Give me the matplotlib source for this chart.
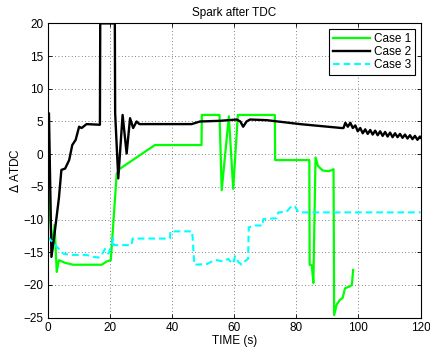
import numpy as np
import matplotlib.pyplot as plt

# Case 1: time (s) and spark timing change
case1_t = [0, 0.1, 1.5, 2.2, 2.9, 3.6, 5.5, 8.2, 17.4, 19.0, 20.3, 22.2, 23.3,
           34.5, 49.5, 49.6, 55.3, 56.0, 58.3, 59.7, 61.2, 73.1, 73.2, 84.2,
           84.3, 85.0, 85.5, 86.2, 87.0, 88.5, 90.5, 92.0, 92.2, 93.0, 94.0,
           94.9, 95.7, 97.3, 97.9, 98.3]
case1_v = [2.9, -5.0, -14.5, -10.8, -18.0, -16.2, -16.6, -16.9, -16.9, -16.4,
           -16.2, -3.0, -2.2, 1.4, 1.4, 6.0, 6.0, -5.5, 5.8, -5.3, 6.0, 6.0,
           -0.9, -0.9, -16.9, -17.0, -19.7, -0.5, -1.8, -2.5, -2.6, -2.3,
           -24.6, -23.0, -22.3, -22.0, -20.5, -20.2, -20.0, -17.7]

# Case 2
case2_t = [0.4, 1.2, 2.0, 3.6, 4.4, 5.6, 6.9, 7.9, 9.0, 10.1, 10.9, 12.5, 16.8,
           16.9, 21.6, 21.7, 22.7, 24.1, 25.4, 26.5, 27.5, 28.6, 29.5, 46.3,
           49.0, 55.4, 60.8, 62.0, 62.9, 64.0, 65.1, 70.5, 81.2, 94.6,
           95.2, 95.8, 96.6, 97.4, 98.2, 99.0, 99.8, 100.6, 101.4, 102.2,
           103.0, 103.8, 104.6, 105.4, 106.2, 107.0, 107.8, 108.6, 109.4,
           110.2, 111.0, 111.8, 112.6, 113.4, 114.2, 115.0, 115.8, 116.6,
           117.4, 118.2, 119.0, 119.8, 120.0]
case2_v = [6.2, -15.7, -12.9, -6.7, -2.4, -2.2, -0.9, 1.4, 2.2, 4.2, 4.0, 4.6,
           4.5, 20, 20, 6.3, -3.7, 6.0, 0.1, 5.5, 4.0, 5.0, 4.6, 4.6, 5.0, 5.1,
           5.3, 5.0, 4.2, 5.0, 5.3, 5.2, 4.6, 4.0,
           4.0, 4.8, 4.2, 4.8, 4.0, 4.4, 3.5, 4.0, 3.2, 3.8, 3.1, 3.7, 3.0,
           3.6, 2.9, 3.5, 2.8, 3.4, 2.7, 3.3, 2.6, 3.2, 2.6, 3.1, 2.5, 3.0,
           2.4, 2.9, 2.3, 2.8, 2.2, 2.7, 2.5]

# Case 3
case3_t = [0, 1.8, 3.4, 5.0, 7.2, 12.5, 14.7, 16.3, 17.4, 18.4, 19.5, 20.5,
           21.1, 21.2, 27.0, 27.3, 39.3, 39.5, 46.5, 47.2, 51.2, 53.3, 54.4,
           56.5, 58.1, 59.2, 59.7, 60.3, 61.4, 62.4, 62.8, 64.5, 64.7, 66.7,
           69.2, 69.4, 73.7, 74.2, 76.9, 78.5, 79.6, 80.7, 120]
case3_v = [-12.6, -13.6, -14.4, -15.2, -15.4, -15.4, -15.7, -15.8, -15.4,
           -14.5, -15.2, -14.0, -12.9, -13.9, -13.9, -12.9, -12.9, -11.8,
           -11.8, -16.9, -16.8, -16.3, -16.2, -16.4, -16.0, -16.6, -16.7,
           -15.6, -16.5, -16.9, -16.6, -16.0, -11.2, -10.9, -10.9, -9.9,
           -9.8, -8.9, -8.8, -7.9, -8.0, -8.9, -8.9]

xticks = np.arange(0, 121, 20)
yticks = np.arange(-25, 21, 5)


def main():
    plt.rcParams['font.family'] = ['Liberation Sans', 'DejaVu Sans']
    fs = 8.5

    fig = plt.figure(figsize=(4.30, 3.49), dpi=100)
    ax = fig.add_axes([0.111, 0.0897, 0.867, 0.8433])

    ax.plot(case1_t, case1_v, color="#00ff00", lw=1.6, label="Case 1")
    ax.plot(case2_t, case2_v, color="black", lw=1.7, label="Case 2")
    ax.plot(case3_t, case3_v, color="#00ffff", lw=1.5, dashes=(3.2, 1.9),
            label="Case 3")

    ax.set_xlim(0, 120)
    ax.set_ylim(-25, 20)
    ax.set_xticks(xticks)
    ax.set_yticks(yticks)
    ax.tick_params(direction="in", labelsize=fs, length=3, width=0.6,
                   top=True, right=True, pad=3)
    ax.grid(True, linestyle=(0, (1, 3)), color="#555555", lw=0.6)
    for s in ax.spines.values():
        s.set_linewidth(0.8)

    ax.set_title("Spark after TDC", fontsize=fs, pad=5)
    ax.set_xlabel("TIME (s)", fontsize=fs, labelpad=1)
    ax.set_ylabel("$\\Delta$ ATDC", fontsize=fs, labelpad=1)

    leg = ax.legend(loc="upper right", fontsize=fs, fancybox=False,
                    edgecolor="black", framealpha=1, handlelength=3.2,
                    borderaxespad=0.5, labelspacing=0.1, handletextpad=0.3,
                    borderpad=0.3)
    leg.get_frame().set_linewidth(0.8)

    fig.savefig("out.png", dpi=100)


if __name__ == "__main__":
    main()
